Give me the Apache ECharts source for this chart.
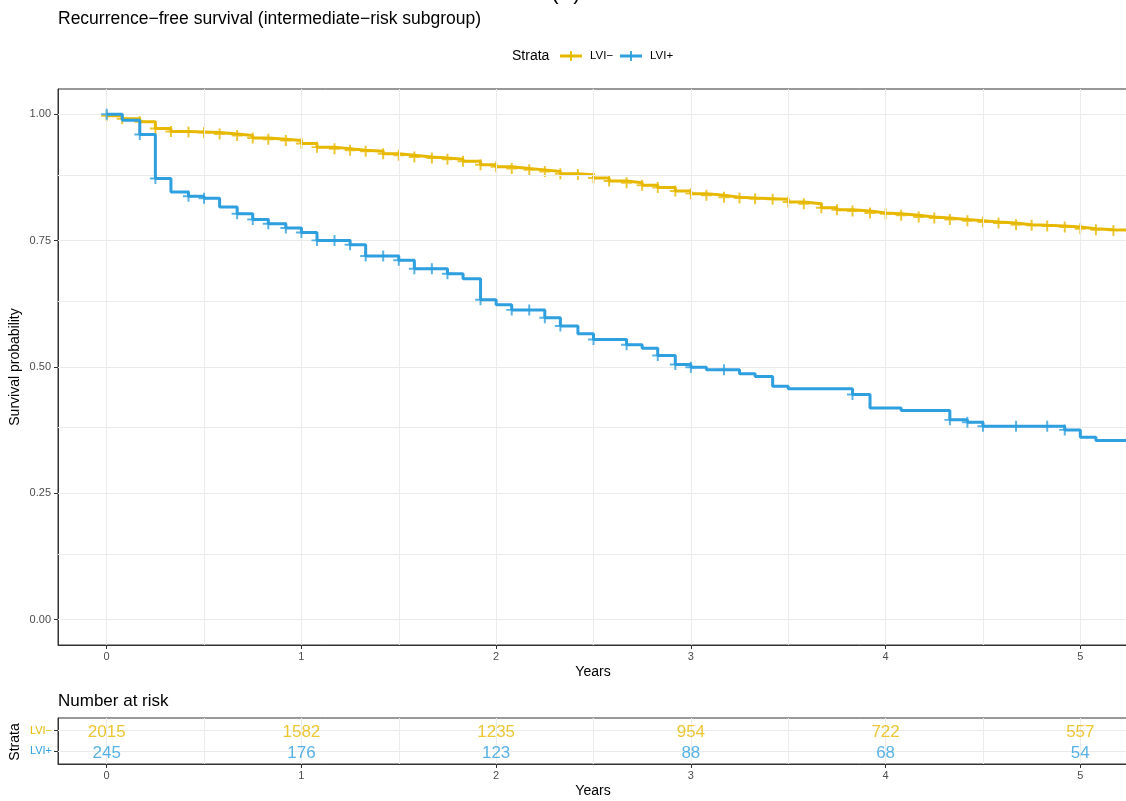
<!DOCTYPE html>
<html>
<head>
<meta charset="utf-8">
<script src="https://cdn.jsdelivr.net/npm/echarts@6/dist/echarts.min.js"></script>
<style>
html,body{margin:0;padding:0;background:#fff;}
#chart{width:1126px;height:801px;}
</style>
</head>
<body>
<div id="chart"></div>
<script>
// ---------------- DATA ----------------
const strata = ['LVI\u2212', 'LVI+'];

// LVI− Kaplan–Meier step curve (years, survival)
const lviNegTimes = [0, 0.08, 0.17, 0.25, 0.33, 0.42, 0.5, 0.58, 0.67, 0.75, 0.83, 0.92,
  1, 1.08, 1.17, 1.25, 1.33, 1.42, 1.5, 1.58, 1.67, 1.75, 1.83, 1.92,
  2, 2.08, 2.17, 2.25, 2.33, 2.42, 2.5, 2.58, 2.67, 2.75, 2.83, 2.92,
  3, 3.08, 3.17, 3.25, 3.33, 3.42, 3.5, 3.58, 3.67, 3.75, 3.83, 3.92,
  4, 4.08, 4.17, 4.25, 4.33, 4.42, 4.5, 4.58, 4.67, 4.75, 4.83, 4.92,
  5, 5.08, 5.17, 5.3];
const lviNegSurv = [0.997, 0.991, 0.985, 0.972, 0.966, 0.965, 0.964, 0.961, 0.958, 0.953, 0.9505, 0.948,
  0.942, 0.935, 0.932, 0.929, 0.927, 0.922, 0.919, 0.9155, 0.9135, 0.911, 0.907, 0.900,
  0.896, 0.8925, 0.890, 0.887, 0.8825, 0.8806, 0.874, 0.868, 0.8647, 0.8594, 0.855, 0.848,
  0.843, 0.8396, 0.836, 0.8343, 0.833, 0.8317, 0.8264, 0.823, 0.815, 0.811, 0.8085, 0.8046,
  0.8033, 0.800, 0.7967, 0.7947, 0.792, 0.7895, 0.7868, 0.7848, 0.7815, 0.7802, 0.7788, 0.7768,
  0.7737, 0.7717, 0.7703, 0.7703];
const lviNegCensor = [0, 0.08, 0.17, 0.25, 0.33, 0.42, 0.5, 0.58, 0.67, 0.75, 0.83, 0.92,
  1, 1.08, 1.17, 1.25, 1.33, 1.42, 1.5, 1.58, 1.67, 1.75, 1.83, 1.92,
  2, 2.08, 2.17, 2.25, 2.33, 2.42, 2.5, 2.58, 2.67, 2.75, 2.83, 2.92,
  3, 3.08, 3.17, 3.25, 3.33, 3.42, 3.5, 3.58, 3.67, 3.75, 3.83, 3.92,
  4, 4.08, 4.17, 4.25, 4.33, 4.42, 4.5, 4.58, 4.67, 4.75, 4.83, 4.92,
  5, 5.08, 5.17];

// LVI+ Kaplan–Meier step curve
const lviPosTimes = [0, 0.08, 0.17, 0.25, 0.33, 0.42, 0.5, 0.58, 0.67, 0.75, 0.83, 0.92,
  1, 1.08, 1.25, 1.33, 1.5, 1.58, 1.75, 1.83, 1.92, 2, 2.08, 2.25, 2.33, 2.42, 2.5,
  2.67, 2.75, 2.83, 2.92, 3, 3.08, 3.25, 3.33, 3.42, 3.5, 3.83, 3.92, 4.08,
  4.33, 4.42, 4.5, 4.92, 5, 5.08, 5.3];
const lviPosSurv = [1.0, 0.988, 0.960, 0.873, 0.846, 0.838, 0.834, 0.8165, 0.803, 0.792, 0.7835, 0.775,
  0.766, 0.7505, 0.742, 0.7195, 0.711, 0.6944, 0.6845, 0.6746, 0.633, 0.623, 0.613, 0.5974, 0.581, 0.5657, 0.5545,
  0.544, 0.537, 0.5228, 0.505, 0.4996, 0.4944, 0.4865, 0.481, 0.462, 0.4568, 0.4455, 0.419, 0.4139,
  0.3954, 0.3907, 0.3828, 0.3756, 0.361, 0.3545, 0.3545];
const lviPosCensor = [0, 0.17, 0.25, 0.42, 0.5, 0.67, 0.75, 0.83, 0.92, 1, 1.08, 1.17, 1.25, 1.33, 1.42,
  1.5, 1.58, 1.67, 1.75, 1.92, 2.08, 2.17, 2.25, 2.33, 2.5, 2.67, 2.83, 2.92, 3, 3.17,
  3.83, 4.33, 4.42, 4.5, 4.67, 4.83, 4.92];

// Number at risk
const riskTimes = [0, 1, 2, 3, 4, 5];
const riskLviNeg = [2015, 1582, 1235, 954, 722, 557];
const riskLviPos = [245, 176, 123, 88, 68, 54];

// Axis ticks / grid lines
const xTicks = [0, 1, 2, 3, 4, 5];
const xMinor = [0.5, 1.5, 2.5, 3.5, 4.5];
const yTicks = [0, 0.25, 0.5, 0.75, 1];
const yMinor = [0.125, 0.375, 0.625, 0.875];

// ---------------- STYLE ----------------
const C_NEG = '#E7B800';
const C_POS = '#2E9FDF';
const FONT = '"Liberation Sans", Arial, Helvetica, sans-serif';
const TICKC = '#4d4d4d';
const GRIDC = '#ebebeb';
const PLUS = 'path://M4.1,0H5.9V4.1H10V5.9H5.9V10H4.1V5.9H0V4.1H4.1Z';

function stepAt(times, surv, t) {
  let v = surv[0];
  for (let i = 0; i < times.length; i++) { if (times[i] <= t + 1e-9) v = surv[i]; }
  return v;
}
const zip = (a, b) => a.map((t, i) => [t, b[i]]);

const chart = echarts.init(document.getElementById('chart'), null, {renderer: 'canvas'});

const gridLinesMain = [
  ...xTicks.map(v => ({xAxis: v})), ...xMinor.map(v => ({xAxis: v})),
  ...yTicks.map(v => ({yAxis: v})), ...yMinor.map(v => ({yAxis: v}))
];
const gridLinesRisk = [
  ...xTicks.map(v => ({xAxis: v})), ...xMinor.map(v => ({xAxis: v})),
  {yAxis: 1}, {yAxis: 2}
];

function xAxisCfg(gi) {
  return {
    type: 'value', gridIndex: gi, min: -0.25, max: 5.25,
    axisLine: {show: true, onZero: false, lineStyle: {color: '#333', width: 1}},
    axisTick: {show: true, customValues: xTicks, length: 4, lineStyle: {color: '#333'}},
    axisLabel: {customValues: xTicks, color: TICKC, fontSize: 11, margin: 6, fontFamily: FONT},
    splitLine: {show: false}
  };
}

const option = {
  animation: false,
  textStyle: {fontFamily: FONT},
  grid: [
    {left: 58, top: 89, width: 1071, height: 556, show: true, borderColor: '#333', borderWidth: 1, backgroundColor: '#fff', outerBoundsMode: 'none', containLabel: false},
    {left: 58, top: 718, width: 1071, height: 46, show: true, borderColor: '#333', borderWidth: 1, backgroundColor: '#fff', outerBoundsMode: 'none', containLabel: false}
  ],
  xAxis: [xAxisCfg(0), xAxisCfg(1)],
  yAxis: [
    {
      type: 'value', gridIndex: 0, min: -0.05, max: 1.05,
      axisLine: {show: true, onZero: false, lineStyle: {color: '#333'}},
      axisTick: {show: true, customValues: yTicks, length: 4, lineStyle: {color: '#333'}},
      axisLabel: {customValues: yTicks, formatter: v => Number(v).toFixed(2), color: TICKC, fontSize: 11, margin: 7, fontFamily: FONT},
      splitLine: {show: false}
    },
    {
      type: 'value', gridIndex: 1, min: 0.4, max: 2.6,
      axisLine: {show: true, onZero: false, lineStyle: {color: '#333'}},
      axisTick: {show: true, customValues: [1, 2], length: 4, lineStyle: {color: '#333'}},
      axisLabel: {
        customValues: [1, 2],
        formatter: v => (Math.round(v) === 2 ? strata[0] : strata[1]),
        color: v => (Math.round(v) === 2 ? C_NEG : C_POS),
        fontSize: 11, margin: 6, fontFamily: FONT
      },
      splitLine: {show: false}
    }
  ],
  graphic: [
    {type: 'text', left: 58, top: 10, style: {text: 'Recurrence\u2212free survival (intermediate\u2212risk subgroup)', fontSize: 17.5, fill: '#000', fontFamily: FONT}},
    {type: 'text', x: 566, y: 4, style: {text: '(B)', fontSize: 22, fill: '#000', fontFamily: FONT, align: 'center', verticalAlign: 'bottom'}},
    // legend
    {type: 'text', x: 512, y: 56, style: {text: 'Strata', fontSize: 14, fill: '#000', fontFamily: FONT, align: 'left', verticalAlign: 'middle'}},
    {type: 'line', shape: {x1: 560, y1: 56, x2: 582, y2: 56}, style: {stroke: C_NEG, lineWidth: 3}},
    {type: 'line', shape: {x1: 571, y1: 51, x2: 571, y2: 61}, style: {stroke: C_NEG, lineWidth: 1.8}},
    {type: 'text', x: 590, y: 56, style: {text: strata[0], fontSize: 11.5, fill: '#000', fontFamily: FONT, align: 'left', verticalAlign: 'middle'}},
    {type: 'line', shape: {x1: 620, y1: 56, x2: 642, y2: 56}, style: {stroke: C_POS, lineWidth: 3}},
    {type: 'line', shape: {x1: 631, y1: 51, x2: 631, y2: 61}, style: {stroke: C_POS, lineWidth: 1.8}},
    {type: 'text', x: 650, y: 56, style: {text: strata[1], fontSize: 11.5, fill: '#000', fontFamily: FONT, align: 'left', verticalAlign: 'middle'}},
    // axis titles
    {type: 'text', x: 15, y: 367, rotation: Math.PI / 2, style: {text: 'Survival probability', fontSize: 14, fill: '#000', fontFamily: FONT, align: 'center', verticalAlign: 'middle'}},
    {type: 'text', x: 593, y: 672, style: {text: 'Years', fontSize: 14, fill: '#000', fontFamily: FONT, align: 'center', verticalAlign: 'middle'}},
    {type: 'text', left: 58, top: 693, style: {text: 'Number at risk', fontSize: 17, fill: '#000', fontFamily: FONT}},
    {type: 'text', x: 15, y: 742, rotation: Math.PI / 2, style: {text: 'Strata', fontSize: 14, fill: '#000', fontFamily: FONT, align: 'center', verticalAlign: 'middle'}},
    {type: 'text', x: 593, y: 791, style: {text: 'Years', fontSize: 14, fill: '#000', fontFamily: FONT, align: 'center', verticalAlign: 'middle'}}
  ],
  series: [
    {
      type: 'line', xAxisIndex: 0, yAxisIndex: 0, data: [], z: 1, silent: true,
      markLine: {silent: true, symbol: ['none', 'none'], label: {show: false}, animation: false,
        lineStyle: {color: GRIDC, width: 1, type: 'solid'}, emphasis: {disabled: true}, data: gridLinesMain}
    },
    {
      name: strata[0], type: 'line', xAxisIndex: 0, yAxisIndex: 0, step: 'end',
      data: zip(lviNegTimes, lviNegSurv), showSymbol: false, symbol: 'none', z: 3,
      lineStyle: {color: C_NEG, width: 3}, itemStyle: {color: C_NEG}
    },
    {
      name: strata[0] + ' censor', type: 'scatter', xAxisIndex: 0, yAxisIndex: 0, z: 4,
      symbol: PLUS, symbolSize: 11, itemStyle: {color: C_NEG},
      data: lviNegCensor.map(t => [t, stepAt(lviNegTimes, lviNegSurv, t)])
    },
    {
      name: strata[1], type: 'line', xAxisIndex: 0, yAxisIndex: 0, step: 'end',
      data: zip(lviPosTimes, lviPosSurv), showSymbol: false, symbol: 'none', z: 5,
      lineStyle: {color: C_POS, width: 3}, itemStyle: {color: C_POS}
    },
    {
      name: strata[1] + ' censor', type: 'scatter', xAxisIndex: 0, yAxisIndex: 0, z: 6,
      symbol: PLUS, symbolSize: 11, itemStyle: {color: C_POS},
      data: lviPosCensor.map(t => [t, stepAt(lviPosTimes, lviPosSurv, t)])
    },
    {
      type: 'line', xAxisIndex: 1, yAxisIndex: 1, data: [], z: 1, silent: true,
      markLine: {silent: true, symbol: ['none', 'none'], label: {show: false}, animation: false,
        lineStyle: {color: GRIDC, width: 1, type: 'solid'}, emphasis: {disabled: true}, data: gridLinesRisk}
    },
    {
      type: 'scatter', xAxisIndex: 1, yAxisIndex: 1, z: 5, symbol: 'circle', symbolSize: 1,
      itemStyle: {color: 'rgba(0,0,0,0)'},
      data: riskTimes.map((t, i) => [t, 2, riskLviNeg[i]]),
      label: {show: true, position: 'inside', offset: [0, 1.5], formatter: p => String(p.value[2]), color: C_NEG, fontSize: 17, fontFamily: FONT}
    },
    {
      type: 'scatter', xAxisIndex: 1, yAxisIndex: 1, z: 5, symbol: 'circle', symbolSize: 1,
      itemStyle: {color: 'rgba(0,0,0,0)'},
      data: riskTimes.map((t, i) => [t, 1, riskLviPos[i]]),
      label: {show: true, position: 'inside', offset: [0, 1.5], formatter: p => String(p.value[2]), color: C_POS, fontSize: 17, fontFamily: FONT}
    }
  ]
};
chart.setOption(option);
</script>
</body>
</html>
